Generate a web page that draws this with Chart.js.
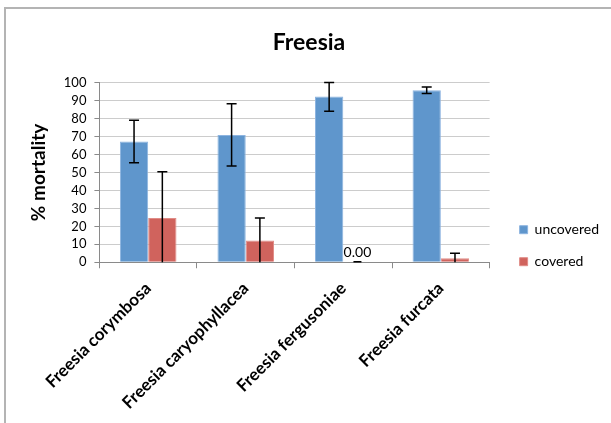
<!DOCTYPE html>
<html>
<head>
<meta charset="utf-8">
<script src="https://cdn.jsdelivr.net/npm/chart.js@4.4.0/dist/chart.umd.min.js"></script>
<style>
    body { margin: 0; background: #fff; }
    #wrap { position: relative; width: 611px; height: 423px; }
    #frame { position: absolute; left: 4px; top: 7px; right: 0; bottom: 0;
             border-top: 2px solid #b4b4b4; border-left: 2px solid #b4b4b4; }
    canvas { position: absolute; left: 0; top: 0; }
</style>
</head>
<body>
<div id="wrap">
    <div id="frame"></div>
    <canvas id="chart" width="611" height="423"></canvas>
</div>
<script>
// species and % mortality, with standard errors
const species = ['Freesia corymbosa', 'Freesia caryophyllacea', 'Freesia fergusoniae', 'Freesia furcata'];
const uncovered = [67.2, 70.9, 92.2, 95.7];
const uncoveredErr = [11.8, 17.3, 8.1, 1.8];
const covered = [24.6, 12.1, 0, 2.2];
const coveredErr = [25.8, 12.6, 0, 2.8];

// whiskers for each bar, clipped at the axis
const errorBars = {
    id: 'errorBars',
    afterLayout(chart) {
        // a bit more air between the plot and the legend
        chart.legend.left += 12;
        chart.legend.right += 12;
    },
    afterDatasetsDraw(chart) {
        const ctx = chart.ctx;
        const y = chart.scales.y;
        ctx.save();
        ctx.strokeStyle = '#000';
        ctx.lineWidth = 1.5;
        chart.data.datasets.forEach((ds, di) => {
            const meta = chart.getDatasetMeta(di);
            meta.data.forEach((bar, i) => {
                const v = ds.data[i], e = ds.errors[i];
                if (!e) return;
                const top = y.getPixelForValue(Math.min(v + e, y.max));
                const bot = y.getPixelForValue(Math.max(v - e, y.min));
                ctx.beginPath();
                ctx.moveTo(bar.x, top); ctx.lineTo(bar.x, bot);
                ctx.moveTo(bar.x - 5, top); ctx.lineTo(bar.x + 5, top);
                if (v - e > y.min) { ctx.moveTo(bar.x - 5, bot); ctx.lineTo(bar.x + 5, bot); }
                ctx.stroke();
            });
        });
        // zero-value label
        const meta = chart.getDatasetMeta(1);
        chart.data.datasets[1].data.forEach((v, i) => {
            if (v !== 0) return;
            const bar = meta.data[i];
            ctx.fillStyle = '#000';
            ctx.font = '14px Lato';
            ctx.textAlign = 'center';
            ctx.textBaseline = 'bottom';
            ctx.fillText(v.toFixed(2), bar.x, y.getPixelForValue(0) - 3);
            ctx.beginPath();
            ctx.moveTo(bar.x - 4, y.getPixelForValue(0) - 0.5);
            ctx.lineTo(bar.x + 4, y.getPixelForValue(0) - 0.5);
            ctx.stroke();
        });
        ctx.restore();
    }
};

new Chart(document.getElementById('chart'), {
    type: 'bar',
    data: {
        labels: species,
        datasets: [
            { label: 'uncovered', data: uncovered, errors: uncoveredErr,
              backgroundColor: '#5f96cc', borderColor: '#8db4e0', borderWidth: 1 },
            { label: 'covered', data: covered, errors: coveredErr,
              backgroundColor: '#d0635d', borderColor: '#e08c87', borderWidth: 1 }
        ]
    },
    options: {
        responsive: false,
        animation: false,
        layout: { padding: { left: 21, right: 14, top: 0, bottom: 0 } },
        datasets: { bar: { categoryPercentage: 0.58, barPercentage: 1 } },
        plugins: {
            title: {
                display: true, text: 'Freesia', color: '#000',
                font: { family: 'Lato', size: 23, weight: 'bold' },
                padding: { top: 29, bottom: 26 }
            },
            legend: {
                position: 'right',
                align: 'center',
                // blank title just pushes the entries lower
                title: { display: true, text: ' ', font: { size: 12 }, padding: { top: 27, bottom: 27 } },
                labels: {
                    color: '#000', boxWidth: 8, boxHeight: 8, padding: 18,
                    font: { family: 'Lato', size: 14 }
                }
            },
            tooltip: { enabled: false }
        },
        scales: {
            x: {
                grid: { drawOnChartArea: false, offset: true, tickLength: 6, color: '#8a8a8a' },
                border: { color: '#8a8a8a' },
                ticks: {
                    color: '#000', maxRotation: 45, minRotation: 45, padding: 10, autoSkip: false,
                    font: { family: 'Lato', size: 17, weight: 'bold' }
                }
            },
            y: {
                min: 0, max: 100,
                ticks: { stepSize: 10, color: '#000', padding: 8, autoSkip: false, font: { family: 'Lato', size: 13 } },
                grid: { color: '#cccccc', tickLength: 5, tickColor: '#8a8a8a' },
                border: { color: '#8a8a8a' },
                title: {
                    display: true, text: '% mortality', color: '#000',
                    font: { family: 'Lato', size: 19, weight: 'bold' }, padding: 6
                }
            }
        }
    },
    plugins: [errorBars]
});
</script>
</body>
</html>
